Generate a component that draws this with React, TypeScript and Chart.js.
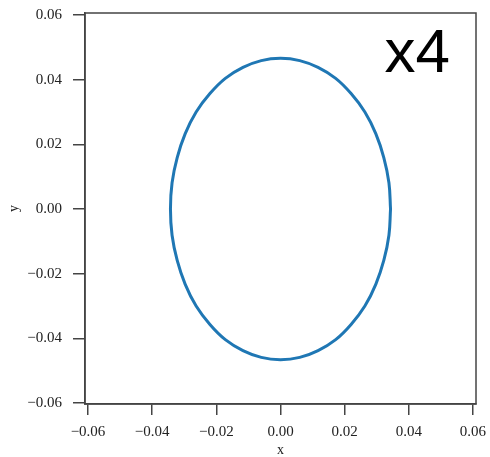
import React, { useEffect, useRef } from "react";
import { Chart, registerables } from "chart.js";

Chart.register(...registerables);

// Ellipse outline (every 10 degrees, starting at the rightmost point)
const curveX = [
  0.0343, 0.0338, 0.0322, 0.0297, 0.0263, 0.022, 0.0172, 0.0117, 0.006, 0.0,
  -0.006, -0.0117, -0.0172, -0.022, -0.0263, -0.0297, -0.0322, -0.0338, -0.0343,
  -0.0338, -0.0322, -0.0297, -0.0263, -0.022, -0.0172, -0.0117, -0.006, 0.0,
  0.006, 0.0117, 0.0172, 0.022, 0.0263, 0.0297, 0.0322, 0.0338, 0.0343,
];
const curveY = [
  0.0, 0.0081, 0.0159, 0.0233, 0.03, 0.0357, 0.0404, 0.0438, 0.0459, 0.0466,
  0.0459, 0.0438, 0.0404, 0.0357, 0.03, 0.0233, 0.0159, 0.0081, 0.0,
  -0.0081, -0.0159, -0.0233, -0.03, -0.0357, -0.0404, -0.0438, -0.0459, -0.0466,
  -0.0459, -0.0438, -0.0404, -0.0357, -0.03, -0.0233, -0.0159, -0.0081, 0.0,
];
const xTickValues = [-0.06, -0.04, -0.02, 0, 0.02, 0.04, 0.06];
const yTickValues = [-0.06, -0.04, -0.02, 0, 0.02, 0.04, 0.06];
const xLabel = "x";
const yLabel = "y";
const cornerText = "x4";

const fmt = (v: number) => {
  const s = Math.abs(v).toFixed(2);
  return v < -1e-9 ? "\u2212" + s : s;
};

const frameColor = "#444444";
const lineColor = "#1f77b4";

const zeroPad = (s: any) => {
  s.paddingTop = 0;
  s.paddingBottom = 0;
  s.paddingLeft = 0;
  s.paddingRight = 0;
};

export default function App() {
  const ref = useRef<HTMLCanvasElement | null>(null);
  useEffect(() => {
    if (!ref.current) return;
    const boxPlugin = {
      id: "boxPlugin",
      afterDraw(chart: any) {
        const { ctx, chartArea } = chart;
        ctx.save();
        ctx.strokeStyle = frameColor;
        ctx.lineWidth = 1.5;
        ctx.strokeRect(chartArea.left, chartArea.top, chartArea.right - chartArea.left, chartArea.bottom - chartArea.top);
        ctx.fillStyle = "#000000";
        ctx.font = "62px 'Liberation Sans', Arial, sans-serif";
        ctx.textAlign = "right";
        ctx.textBaseline = "alphabetic";
        ctx.fillText(cornerText, chartArea.right - 26, 72);
        ctx.restore();
      },
    };
    const tickFont = { family: "'Liberation Serif', 'Times New Roman', serif", size: 15 };
    const chart = new Chart(ref.current, {
      type: "scatter",
      data: {
        datasets: [
          {
            data: curveX.map((x, i) => ({ x, y: curveY[i] })),
            showLine: true,
            borderColor: lineColor,
            borderWidth: 3,
            pointRadius: 0,
            tension: 0.4,
            fill: false,
          },
        ],
      },
      options: {
        animation: false,
        responsive: false,
        maintainAspectRatio: false,
        layout: { padding: { top: 13, right: 14, left: 0, bottom: 0 } },
        plugins: { legend: { display: false }, tooltip: { enabled: false } },
        scales: {
          x: {
            type: "linear",
            min: -0.06094,
            max: 0.06094,
            afterBuildTicks: (s: any) => {
              s.ticks = xTickValues.map((v) => ({ value: v }));
            },
            afterFit: (s: any) => {
              s.height = 55;
              zeroPad(s);
            },
            ticks: { callback: (v: any) => fmt(Number(v)), font: tickFont, color: "#222", padding: 8, maxRotation: 0, autoSkip: false },
            grid: { display: true, drawOnChartArea: false, drawTicks: true, tickLength: 11, color: frameColor, lineWidth: 1.5 },
            border: { display: true, color: frameColor, width: 1.5 },
            title: { display: true, text: xLabel, font: { family: "'Liberation Serif', serif", size: 14 }, color: "#222", padding: { top: 0, bottom: 0 } },
          },
          y: {
            type: "linear",
            min: -0.06031,
            max: 0.06062,
            afterBuildTicks: (s: any) => {
              s.ticks = yTickValues.map((v) => ({ value: v }));
            },
            afterFit: (s: any) => {
              s.width = 85;
              zeroPad(s);
            },
            ticks: { callback: (v: any) => fmt(Number(v)), font: tickFont, color: "#222", padding: 11, autoSkip: false },
            grid: { display: true, drawOnChartArea: false, drawTicks: true, tickLength: 12, color: frameColor, lineWidth: 1.5 },
            border: { display: true, color: frameColor, width: 1.5 },
            title: { display: true, text: yLabel, font: { family: "'Liberation Serif', serif", size: 14 }, color: "#222", padding: { top: 6, bottom: 0 } },
          },
        },
      },
      plugins: [boxPlugin],
    } as any);
    return () => chart.destroy();
  }, []);
  return (
    <div style={{ position: "absolute", left: 0, top: 0, width: 490, height: 457, background: "#fff", overflow: "hidden" }}>
      <canvas ref={ref} width={490} height={459} style={{ display: "block" }} />
    </div>
  );
}
